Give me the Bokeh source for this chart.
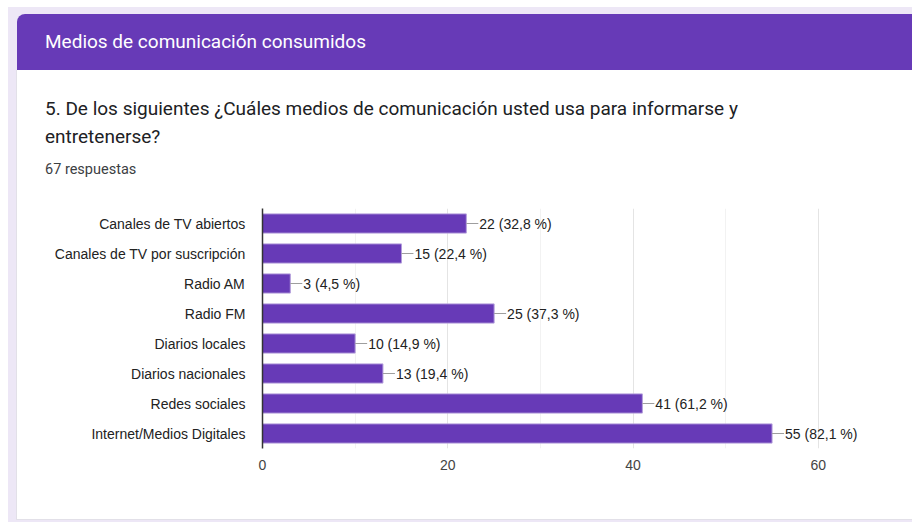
from bokeh.plotting import figure
from bokeh.models import Div, FactorRange, Range1d, FixedTicker, ColumnDataSource
from bokeh.layouts import column, row
from bokeh.embed import file_html
from bokeh.resources import INLINE
from bokeh.core.properties import value

# ---- data ----
categories = ["Canales de TV abiertos", "Canales de TV por suscripción", "Radio AM",
              "Radio FM", "Diarios locales", "Diarios nacionales", "Redes sociales",
              "Internet/Medios Digitales"]
counts = [22, 15, 3, 25, 10, 13, 41, 55]
percents = ["32,8", "22,4", "4,5", "37,3", "14,9", "19,4", "61,2", "82,1"]
x_ticks = [0, 20, 40, 60]
x_minor_ticks = [10, 30, 50]
total_responses = 67
section_title = "Medios de comunicación consumidos"
question_line1 = "5. De los siguientes ¿Cuáles medios de comunicación usted usa para informarse y"
question_line2 = "entretenerse?"

LAV = "#ede7f6"
PURPLE = "#673ab7"
BORDER = "#e2e0e8"

labels = [f"{c} ({p} %)" for c, p in zip(counts, percents)]
src = ColumnDataSource(dict(cat=categories, count=counts, label=labels))

# ---- left page strip (full height) ----
left_div = Div(text="", width=17, height=522, margin=0,
               styles={"background": (f"linear-gradient({BORDER}, {BORDER}) 16px 70px / 1px 450px no-repeat, "
                                      f"linear-gradient({LAV}, {LAV}) 8px 7px / 9px 515px no-repeat, "
                                      f"#ffffff")})

# ---- header (card top) ----
header_html = f"""<div style="position:relative;width:895px;height:190px;background:#ffffff;overflow:hidden;margin:0;padding:0;">
 <div style="position:absolute;left:0;top:7px;width:895px;height:183px;background:{LAV};"></div>
 <div style="position:absolute;left:0;top:14px;width:895px;height:176px;background:#ffffff;border-top-left-radius:8px;overflow:hidden;">
  <div style="position:absolute;left:0;top:0;width:895px;height:56px;background:{PURPLE};"></div>
  <div style="position:absolute;left:28px;top:0;height:56px;line-height:56px;color:#ffffff;font-family:Roboto;font-size:19px;white-space:nowrap;">{section_title}</div>
  <div style="position:absolute;left:28px;top:81px;line-height:28px;color:#202124;font-family:Roboto;font-size:19px;white-space:nowrap;">{question_line1}<br>{question_line2}</div>
  <div style="position:absolute;left:28px;top:146px;line-height:20px;color:#3c4043;font-family:Roboto;font-size:14.5px;white-space:nowrap;">{total_responses} respuestas</div>
 </div>
</div>"""
top_div = Div(text=header_html, width=895, height=190, margin=0)

bottom_div = Div(text="", width=895, height=4, margin=0,
                 styles={"background": (f"linear-gradient({BORDER}, {BORDER}) 0px 1px / 100% 1px no-repeat, "
                                        f"linear-gradient(#ffffff, #ffffff) 0px 0px / 100% 1px no-repeat, "
                                        f"{LAV}")})

# ---- chart ----
p = figure(width=895, height=328,
           y_range=FactorRange(factors=list(reversed(categories))),
           x_range=Range1d(0, 70.16),
           output_backend="svg", toolbar_location=None,
           min_border_left=245, min_border_right=0, min_border_top=18, min_border_bottom=70)
p.margin = 0
p.background_fill_color = "#ffffff"
p.border_fill_color = "#ffffff"
p.outline_line_color = None

p.hbar(y="cat", right="count", height=0.64, source=src,
       fill_color=PURPLE, line_color="#b39ddb", line_width=1)
p.ray(x="count", y="cat", length=12, length_units="screen", angle=0,
      line_color="#9e9e9e", line_width=1, source=src)
p.text(x="count", y="cat", text="label", x_offset=13, source=src,
       text_baseline="middle", text_align="left",
       text_font=value("Liberation Sans"), text_font_size="14px", text_color="#222222")

p.xaxis.ticker = FixedTicker(ticks=x_ticks, minor_ticks=x_minor_ticks)
p.xaxis.axis_line_color = None
p.xaxis.major_tick_line_color = None
p.xaxis.minor_tick_line_color = None
p.xaxis.major_label_standoff = 5
p.xaxis.major_label_text_font = "Liberation Sans"
p.xaxis.major_label_text_font_size = "14px"
p.xaxis.major_label_text_color = "#444444"

p.yaxis.axis_line_color = "#333333"
p.yaxis.axis_line_width = 1.5
p.yaxis.major_tick_line_color = None
p.yaxis.minor_tick_line_color = None
p.yaxis.major_label_standoff = 11
p.yaxis.major_label_text_font = "Liberation Sans"
p.yaxis.major_label_text_font_size = "14px"
p.yaxis.major_label_text_color = "#222222"

p.ygrid.grid_line_color = None
p.xgrid.grid_line_color = "#e4e4e4"
p.xgrid.minor_grid_line_color = "#f2f2f2"

layout = row(left_div, column(top_div, p, bottom_div))

open("out.html", "w").write(file_html(layout, INLINE))
